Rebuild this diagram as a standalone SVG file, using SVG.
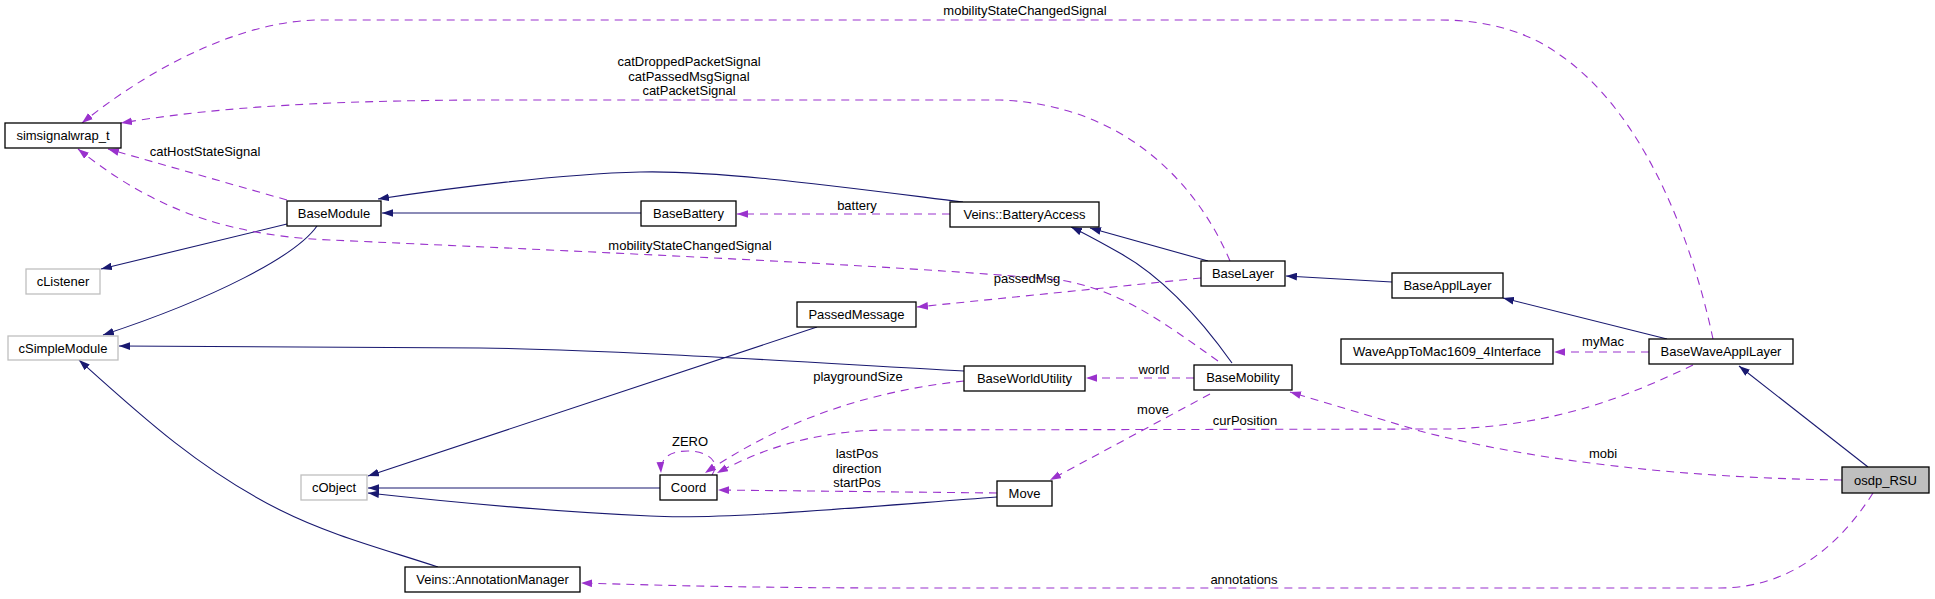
<svg xmlns="http://www.w3.org/2000/svg" width="1935" height="599" viewBox="0 0 1935 599">
<defs>
<style>
.n rect{fill:#ffffff;stroke:#000000;stroke-width:1.3}
.n.g rect{stroke:#bfbfbf}
.n.h rect{fill:#bfbfbf}
text{font-family:"Liberation Sans",Arial,sans-serif;font-size:13px;fill:#000000}
.n text{text-anchor:middle}
.lbl{text-anchor:middle}
.inh{fill:none;stroke:#191970;stroke-width:1.1;marker-end:url(#ai)}
.use{fill:none;stroke:#9a32cd;stroke-width:1.1;stroke-dasharray:8,6;marker-end:url(#au)}
</style>
<marker id="ai" viewBox="0 0 10 7" refX="10" refY="3.5" markerWidth="11" markerHeight="8" markerUnits="userSpaceOnUse" orient="auto">
<path d="M0,0 L10,3.5 L0,7 z" fill="#191970"/>
</marker>
<marker id="au" viewBox="0 0 10 7" refX="10" refY="3.5" markerWidth="11" markerHeight="8" markerUnits="userSpaceOnUse" orient="auto">
<path d="M0,0 L10,3.5 L0,7 z" fill="#9a32cd"/>
</marker>
</defs>
<rect width="1935" height="599" fill="#ffffff"/>

<g id="edges">
<!-- inheritance -->
<path class="inh" d="M287,224 L101,269"/>
<path class="inh" d="M317,226 C296,256 215,298 103,335"/>
<path class="inh" d="M641,213 L382,213"/>
<path class="inh" d="M963,202 C850,188 720,170 640,172 C560,174 450,188 378,199"/>
<path class="inh" d="M1232,363 C1200,318 1160,275 1118,252 C1102,243 1086,234 1071,227"/>
<path class="inh" d="M1208,261 L1090,228"/>
<path class="inh" d="M1392,282 L1286,276"/>
<path class="inh" d="M1667,339 L1503,298"/>
<path class="inh" d="M1868,467 L1739,366"/>
<path class="inh" d="M964,371 C800,362 620,350 480,348 L119,346"/>
<path class="inh" d="M817,327 L368,476"/>
<path class="inh" d="M660,488 L368,488"/>
<path class="inh" d="M997,497 C850,508 720,520 650,516 C560,512 450,502 368,493"/>
<path class="inh" d="M438,567 C380,548 330,535 280,510 C200,470 140,415 79,360"/>
<!-- usage -->
<path class="use" d="M1713,339 C1690,230 1640,110 1560,55 C1530,33 1490,20 1440,20 L320,20 C250,20 160,60 82,123"/>
<path class="use" d="M1230,261 C1200,190 1130,105 1000,100 L500,100 C300,100 200,110 121,123"/>
<path class="use" d="M287,200 L108,149"/>
<path class="use" d="M1218,361 C1160,320 1120,290 1060,280 C900,265 550,250 330,240 C200,235 130,190 78,149"/>
<path class="use" d="M1201,278 L917,307"/>
<path class="use" d="M950,214 L737,214"/>
<path class="use" d="M1194,378 L1086,378"/>
<path class="use" d="M1210,394 L1050,480"/>
<path class="use" d="M964,381 C880,390 790,415 705,473"/>
<path class="use" d="M1693,365 C1630,395 1560,425 1450,429 L880,430 C810,432 760,450 717,473"/>
<path class="use" d="M997,493 L718,490"/>
<path class="use" d="M712,475 C722,460 705,451 688,451 C672,451 660,456 661,473"/>
<path class="use" d="M1842,480 C1680,478 1530,460 1420,431 L1290,392"/>
<path class="use" d="M1873,493 C1840,545 1790,588 1720,588 L900,588 C750,588 650,585 581,583"/>
<path class="use" d="M1649,352 L1554,352"/>
<!-- labels -->
<text class="lbl" x="1025" y="15">mobilityStateChangedSignal</text>
<text class="lbl" x="689" y="66">catDroppedPacketSignal</text>
<text class="lbl" x="689" y="80.5">catPassedMsgSignal</text>
<text class="lbl" x="689" y="95">catPacketSignal</text>
<text class="lbl" x="205" y="156">catHostStateSignal</text>
<text class="lbl" x="690" y="250">mobilityStateChangedSignal</text>
<text class="lbl" x="1027" y="283">passedMsg</text>
<text class="lbl" x="857" y="210">battery</text>
<text class="lbl" x="1154" y="374">world</text>
<text class="lbl" x="1153" y="414">move</text>
<text class="lbl" x="858" y="381">playgroundSize</text>
<text class="lbl" x="1245" y="425">curPosition</text>
<text class="lbl" x="857" y="458">lastPos</text>
<text class="lbl" x="857" y="472.5">direction</text>
<text class="lbl" x="857" y="487">startPos</text>
<text class="lbl" x="690" y="446">ZERO</text>
<text class="lbl" x="1603" y="458">mobi</text>
<text class="lbl" x="1244" y="584">annotations</text>
<text class="lbl" x="1603" y="346">myMac</text>
</g>

<g id="simsignalwrap_t" class="n"><rect x="5" y="123" width="116" height="25"/><text x="63" y="140">simsignalwrap_t</text></g>
<g id="BaseModule" class="n"><rect x="287" y="201" width="94" height="25"/><text x="334" y="218">BaseModule</text></g>
<g id="cListener" class="n g"><rect x="26" y="269" width="74" height="25"/><text x="63" y="286">cListener</text></g>
<g id="cSimpleModule" class="n g"><rect x="8" y="336" width="110" height="24"/><text x="63" y="352.5">cSimpleModule</text></g>
<g id="BaseBattery" class="n"><rect x="641" y="201" width="95" height="25"/><text x="688.5" y="218">BaseBattery</text></g>
<g id="BatteryAccess" class="n"><rect x="950" y="202" width="149" height="25"/><text x="1024.5" y="219">Veins::BatteryAccess</text></g>
<g id="PassedMessage" class="n"><rect x="797" y="302" width="119" height="25"/><text x="856.5" y="319">PassedMessage</text></g>
<g id="BaseWorldUtility" class="n"><rect x="964" y="366" width="121" height="25"/><text x="1024.5" y="383">BaseWorldUtility</text></g>
<g id="cObject" class="n g"><rect x="301" y="475" width="66" height="25"/><text x="334" y="492">cObject</text></g>
<g id="Coord" class="n"><rect x="660" y="475" width="57" height="25"/><text x="688.5" y="492">Coord</text></g>
<g id="Move" class="n"><rect x="997" y="481" width="55" height="25"/><text x="1024.5" y="498">Move</text></g>
<g id="AnnotationManager" class="n"><rect x="405" y="567" width="175" height="25"/><text x="492.5" y="584">Veins::AnnotationManager</text></g>
<g id="BaseLayer" class="n"><rect x="1201" y="261" width="84" height="25"/><text x="1243" y="278">BaseLayer</text></g>
<g id="BaseApplLayer" class="n"><rect x="1392" y="273" width="111" height="25"/><text x="1447.5" y="290">BaseApplLayer</text></g>
<g id="BaseMobility" class="n"><rect x="1194" y="365" width="98" height="25"/><text x="1243" y="382">BaseMobility</text></g>
<g id="WaveAppToMac" class="n"><rect x="1341" y="339" width="212" height="25"/><text x="1447" y="356">WaveAppToMac1609_4Interface</text></g>
<g id="BaseWaveApplLayer" class="n"><rect x="1649" y="339" width="144" height="25"/><text x="1721" y="356">BaseWaveApplLayer</text></g>
<g id="osdp_RSU" class="n h"><rect x="1842" y="467" width="87" height="26"/><text x="1885.5" y="484.5">osdp_RSU</text></g>
</svg>
